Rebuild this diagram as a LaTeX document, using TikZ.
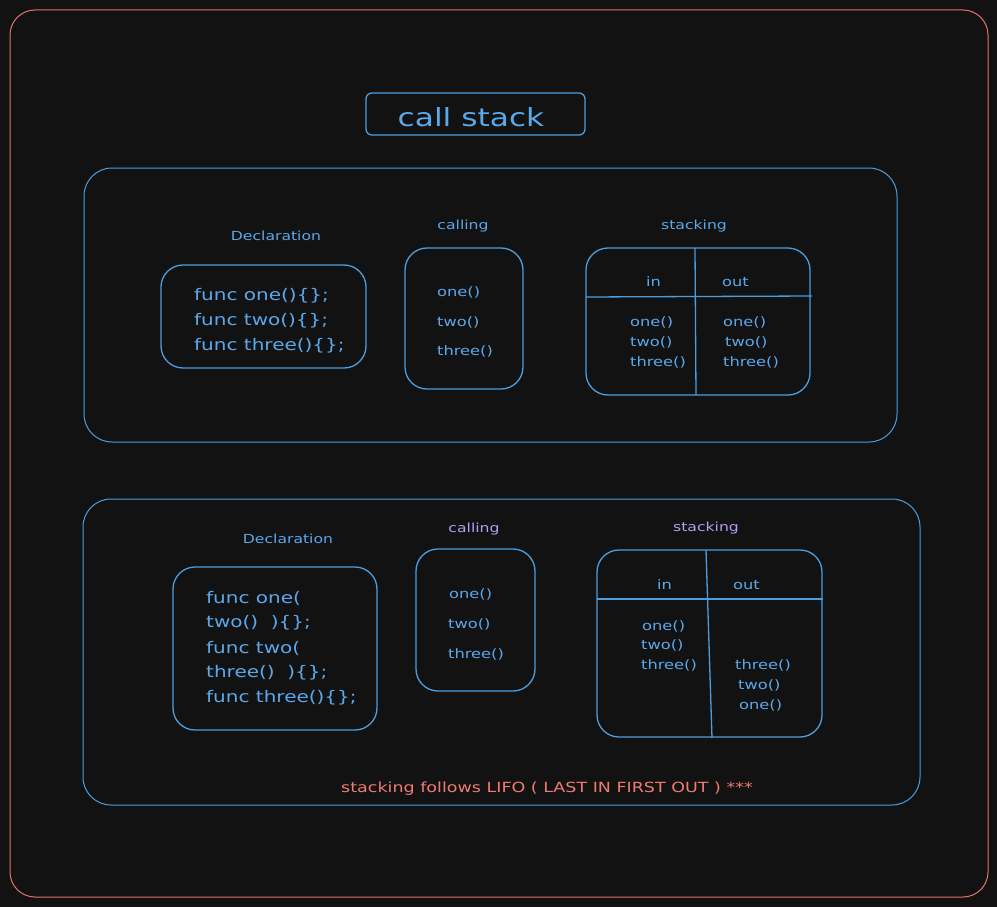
\documentclass[tikz,border=0pt]{standalone}
\usepackage{fontspec}
\setmainfont[FakeStretch=1.25]{DejaVu Sans}
\definecolor{bgc}{HTML}{121212}
\definecolor{redc}{HTML}{E8716B}
\definecolor{bluec}{HTML}{4A9EE0}
\definecolor{txtb}{HTML}{5AA8EC}
\definecolor{purp}{HTML}{B79BF5}
\definecolor{footr}{HTML}{F07A72}
\begin{document}
\begin{tikzpicture}[x=1pt,y=-1pt,
  panel/.style={draw=bluec,line width=1pt,rounded corners=28pt},
  box/.style={draw=bluec,line width=1.3pt,rounded corners=22pt},
  lbl/.style={text=txtb,font=\fontsize{12.5}{14}\selectfont,inner sep=0pt},
  plbl/.style={text=purp,font=\fontsize{12.5}{14}\selectfont,inner sep=0pt},
  code/.style={text=txtb,font=\fontsize{16}{18}\selectfont,anchor=west,inner sep=0pt},
  item/.style={text=txtb,font=\fontsize{13}{15}\selectfont,anchor=west,inner sep=0pt},
  rule/.style={draw=bluec,line width=1.3pt}]
\fill[bgc] (0,0) rectangle (997,907);
\useasboundingbox (0,0) rectangle (997,907);
\draw[redc,line width=1pt,rounded corners=25pt] (10,10) rectangle (988,897);
% title
\draw[box,rounded corners=6pt] (366,93) rectangle (585,135);
\node[text=txtb,font=\fontsize{25}{28}\selectfont,inner sep=0pt] (title) at (471,117) {call stack};
% top panel
\draw[panel] (84,168) rectangle (897,442);
\node[lbl] (decl1) at (276,236) {Declaration};
\draw[box] (161,265) rectangle (366,368);
\node[code] (d1a) at (194,296) {func one()\{\};};
\node[code] (d1b) at (194,321) {func two()\{\};};
\node[code] (d1c) at (194,346) {func three()\{\};};
\node[lbl] (call1) at (463,226) {calling};
\draw[box] (405,248) rectangle (523,389);
\node[item] (c1a) at (437,292) {one()};
\node[item] (c1b) at (437,322) {two()};
\node[item] (c1c) at (437,351) {three()};
\node[lbl] (stk1) at (694,226) {stacking};
\draw[box] (586,248) rectangle (810,395);
\draw[rule] (586,297) -- (812,296);
\draw[rule] (695,248) -- (696,395);
\node[item] (in1) at (646,282) {in};
\node[item] (out1) at (722,282) {out};
\node[item] (i1a) at (630,322) {one()};
\node[item] (i1b) at (630,342) {two()};
\node[item] (i1c) at (630,362) {three()};
\node[item] (o1a) at (723,322) {one()};
\node[item] (o1b) at (725,342) {two()};
\node[item] (o1c) at (723,362) {three()};
% bottom panel
\draw[panel] (83,499) rectangle (920,805);
\node[lbl] (decl2) at (288,539) {Declaration};
\draw[box] (173,567) rectangle (377,730);
\node[code] (d2a) at (206,598) {func one(};
\node[code] (d2b) at (206,623) {two()\ \ )\{\};};
\node[code] (d2c) at (206,648) {func two(};
\node[code] (d2d) at (206,673) {three()\ \ )\{\};};
\node[code] (d2e) at (206,698) {func three()\{\};};
\node[plbl] (call2) at (474,529) {calling};
\draw[box] (416,549) rectangle (535,691);
\node[item] (c2a) at (449,594) {one()};
\node[item] (c2b) at (448,624) {two()};
\node[item] (c2c) at (448,654) {three()};
\node[plbl] (stk2) at (706,528) {stacking};
\draw[box] (597,550) rectangle (822,737);
\draw[rule] (597,599) -- (823,599);
\draw[rule] (706,550) -- (712,738);
\node[item] (in2) at (657,585) {in};
\node[item] (out2) at (733,585) {out};
\node[item] (i2a) at (642,626) {one()};
\node[item] (i2b) at (641,645) {two()};
\node[item] (i2c) at (641,665) {three()};
\node[item] (o2a) at (735,665) {three()};
\node[item] (o2b) at (738,685) {two()};
\node[item] (o2c) at (739,705) {one()};
\node[text=footr,font=\fontsize{14}{16}\selectfont,inner sep=0pt] (foot) at (547,789) {stacking follows LIFO ( LAST IN FIRST OUT ) ***};
\end{tikzpicture}
\end{document}
